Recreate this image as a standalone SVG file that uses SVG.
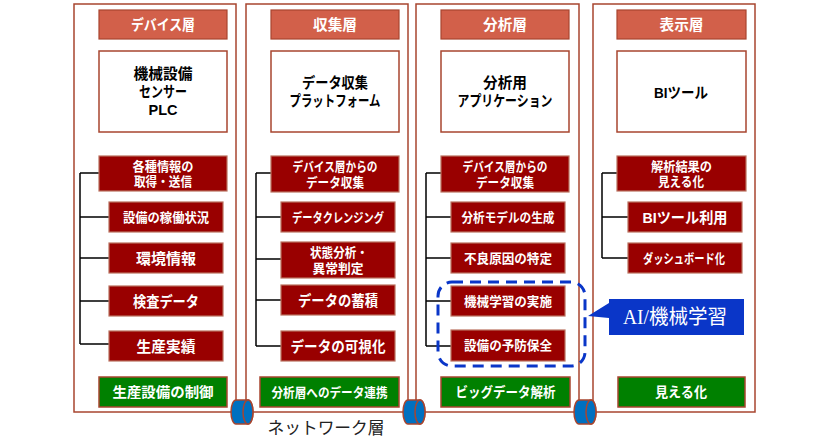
<svg xmlns="http://www.w3.org/2000/svg" xmlns:xlink="http://www.w3.org/1999/xlink" width="830" height="440" viewBox="0 0 830 440">
<style>
.col{fill:#fff;stroke:#a8452f;stroke-width:1.5}
.hdr{fill:#d2604a;stroke:#a8452f;stroke-width:1.2}
.wbox{fill:#fff;stroke:#a8452f;stroke-width:1.5}
.item{fill:#990000;stroke:#b9705e;stroke-width:1.2}
.grn{fill:#008000;stroke:#a8452f;stroke-width:1.5}
.tree{fill:none;stroke:#000;stroke-width:1.5}
text{font-family:"Liberation Sans","Noto Sans CJK JP",sans-serif;text-anchor:middle;dominant-baseline:central;font-weight:bold}
.th{fill:#fff;font-size:14.5px}
.tw{fill:#000;font-size:15px}
.ts{fill:#fff;font-size:13px}
.tl{fill:#fff;font-size:15px}
.tg{fill:#fff;font-size:14px}
.cyl{fill:#0070c0;stroke:#a8452f;stroke-width:1.5}
</style>
<defs>
<g id="cyl">
<path class="cyl" d="M5,0 H17 A5,12 0 0 1 17,24 H5 A5,12 0 0 1 5,0 Z"/>
<ellipse class="cyl" cx="17" cy="12" rx="5" ry="12"/>
</g>
</defs>

<g id="columns">
<rect class="col" x="74" y="4" width="162" height="408"/>
<rect class="col" x="246" y="4" width="162" height="408"/>
<rect class="col" x="416" y="4" width="163" height="408"/>
<rect class="col" x="593" y="4" width="162" height="408"/>
</g>

<g id="connectors">
<path class="tree" d="M80,173 V344 M80,173 H99 M80,217 H109 M80,258 H109 M80,301 H109 M80,344 H109"/>
<path class="tree" d="M256,173 V346 M256,173 H271 M256,217 H281 M256,259 H281 M256,300 H281 M256,346 H281"/>
<path class="tree" d="M426,173 V346 M426,173 H441 M426,217 H451 M426,258 H451 M426,301 H451 M426,346 H451"/>
<path class="tree" d="M602,173 V258 M602,173 H617 M602,217 H628 M602,258 H628"/>
</g>

<g id="col1">
<g id="h1"><rect class="hdr" x="99" y="10" width="128" height="29"/><text class="th" x="163" y="24.5" textLength="64" lengthAdjust="spacingAndGlyphs">デバイス層</text></g>
<g id="w1"><rect class="wbox" x="99" y="51" width="128" height="81"/>
<text class="tw" x="163" y="73" textLength="59" lengthAdjust="spacingAndGlyphs">機械設備</text>
<text class="tw" x="163" y="91" textLength="48" lengthAdjust="spacingAndGlyphs">センサー</text>
<text class="tw" x="163" y="109" textLength="29" lengthAdjust="spacingAndGlyphs">PLC</text></g>
<g id="i1a"><rect class="item" x="99" y="156" width="128" height="35"/>
<text class="ts" x="163" y="166" textLength="61" lengthAdjust="spacingAndGlyphs">各種情報の</text>
<text class="ts" x="163" y="181" textLength="58" lengthAdjust="spacingAndGlyphs">取得・送信</text></g>
<g id="i1b"><rect class="item" x="109" y="202" width="114" height="30"/><text class="ts" x="166" y="217" textLength="86" lengthAdjust="spacingAndGlyphs">設備の稼働状況</text></g>
<g id="i1c"><rect class="item" x="109" y="243" width="114" height="30"/><text class="tl" x="166" y="258" textLength="60" lengthAdjust="spacingAndGlyphs">環境情報</text></g>
<g id="i1d"><rect class="item" x="109" y="286" width="114" height="30"/><text class="tl" x="166" y="301" textLength="66" lengthAdjust="spacingAndGlyphs">検査データ</text></g>
<g id="i1e"><rect class="item" x="109" y="331" width="114" height="30"/><text class="tl" x="166" y="346" textLength="59" lengthAdjust="spacingAndGlyphs">生産実績</text></g>
<g id="g1"><rect class="grn" x="99" y="377" width="128" height="30"/><text class="tg" x="163" y="392" textLength="101" lengthAdjust="spacingAndGlyphs">生産設備の制御</text></g>
</g>

<g id="col2">
<g id="h2"><rect class="hdr" x="271" y="10" width="128" height="29"/><text class="th" x="335" y="24.5" textLength="44" lengthAdjust="spacingAndGlyphs">収集層</text></g>
<g id="w2"><rect class="wbox" x="271" y="51" width="128" height="81"/>
<text class="tw" x="335" y="82" textLength="66" lengthAdjust="spacingAndGlyphs">データ収集</text>
<text class="tw" x="335" y="100" textLength="91" lengthAdjust="spacingAndGlyphs">プラットフォーム</text></g>
<g id="i2a"><rect class="item" x="271" y="156" width="128" height="36"/>
<text class="ts" x="335" y="166.5" textLength="85" lengthAdjust="spacingAndGlyphs">デバイス層からの</text>
<text class="ts" x="335" y="182" textLength="58" lengthAdjust="spacingAndGlyphs">データ収集</text></g>
<g id="i2b"><rect class="item" x="281" y="202" width="114" height="30"/><text class="ts" x="338" y="217" textLength="92" lengthAdjust="spacingAndGlyphs">データクレンジング</text></g>
<g id="i2c"><rect class="item" x="281" y="242" width="114" height="36"/>
<text class="ts" x="339" y="252.5" textLength="58" lengthAdjust="spacingAndGlyphs">状態分析・</text>
<text class="ts" x="338" y="268" textLength="51" lengthAdjust="spacingAndGlyphs">異常判定</text></g>
<g id="i2d"><rect class="item" x="281" y="285" width="114" height="30"/><text class="tl" x="338" y="300" textLength="80" lengthAdjust="spacingAndGlyphs">データの蓄積</text></g>
<g id="i2e"><rect class="item" x="281" y="331" width="114" height="30"/><text class="tl" x="338" y="346" textLength="95" lengthAdjust="spacingAndGlyphs">データの可視化</text></g>
<g id="g2"><rect class="grn" x="260" y="377" width="139" height="30"/><text class="ts" x="329.5" y="392" textLength="116" lengthAdjust="spacingAndGlyphs">分析層へのデータ連携</text></g>
</g>

<g id="col3">
<g id="h3"><rect class="hdr" x="441" y="10" width="128" height="29"/><text class="th" x="505" y="24.5" textLength="44" lengthAdjust="spacingAndGlyphs">分析層</text></g>
<g id="w3"><rect class="wbox" x="441" y="51" width="128" height="81"/>
<text class="tw" x="505" y="82" textLength="44" lengthAdjust="spacingAndGlyphs">分析用</text>
<text class="tw" x="505" y="100" textLength="95" lengthAdjust="spacingAndGlyphs">アプリケーション</text></g>
<g id="i3a"><rect class="item" x="441" y="156" width="128" height="36"/>
<text class="ts" x="505" y="166.5" textLength="85" lengthAdjust="spacingAndGlyphs">デバイス層からの</text>
<text class="ts" x="505" y="182" textLength="58" lengthAdjust="spacingAndGlyphs">データ収集</text></g>
<g id="i3b"><rect class="item" x="451" y="202" width="114" height="30"/><text class="ts" x="508" y="217" textLength="93" lengthAdjust="spacingAndGlyphs">分析モデルの生成</text></g>
<g id="i3c"><rect class="item" x="451" y="243" width="114" height="30"/><text class="ts" x="508" y="258" textLength="88" lengthAdjust="spacingAndGlyphs">不良原因の特定</text></g>
<g id="i3d"><rect class="item" x="451" y="286" width="114" height="30"/><text class="ts" x="508" y="301" textLength="88" lengthAdjust="spacingAndGlyphs">機械学習の実施</text></g>
<g id="i3e"><rect class="item" x="451" y="330" width="114" height="31"/><text class="ts" x="508" y="345.5" textLength="88" lengthAdjust="spacingAndGlyphs">設備の予防保全</text></g>
<g id="g3"><rect class="grn" x="441" y="377" width="129" height="30"/><text class="tg" x="505.5" y="392" textLength="100" lengthAdjust="spacingAndGlyphs">ビッグデータ解析</text></g>
<g id="ml-group"><rect x="438" y="282" width="147" height="84" rx="14" fill="none" stroke="#0a36c8" stroke-width="3" stroke-dasharray="11 7"/></g>
</g>

<g id="col4">
<g id="h4"><rect class="hdr" x="617" y="10" width="129" height="29"/><text class="th" x="681.5" y="24.5" textLength="44" lengthAdjust="spacingAndGlyphs">表示層</text></g>
<g id="w4"><rect class="wbox" x="617" y="51" width="129" height="81"/>
<text class="tw" x="681" y="92" textLength="54" lengthAdjust="spacingAndGlyphs">BIツール</text></g>
<g id="i4a"><rect class="item" x="617" y="156" width="129" height="35"/>
<text class="ts" x="681.5" y="166" textLength="61" lengthAdjust="spacingAndGlyphs">解析結果の</text>
<text class="ts" x="681" y="181" textLength="46" lengthAdjust="spacingAndGlyphs">見える化</text></g>
<g id="i4b"><rect class="item" x="628" y="202" width="114" height="30"/><text class="tl" x="685" y="217" textLength="85" lengthAdjust="spacingAndGlyphs">BIツール利用</text></g>
<g id="i4c"><rect class="item" x="628" y="243" width="114" height="30"/><text class="ts" x="684" y="258" textLength="82" lengthAdjust="spacingAndGlyphs">ダッシュボード化</text></g>
<g id="g4"><rect class="grn" x="618" y="377" width="127" height="30"/><text class="tg" x="681" y="392" textLength="52" lengthAdjust="spacingAndGlyphs">見える化</text></g>
</g>

<g id="callout">
<path d="M609,299 H744 V335 H609 V318 L588,316 L609,303 Z" fill="#0a36c8"/>
<text x="675" y="317" style="font-family:'Liberation Serif','Noto Sans CJK JP',serif;font-weight:normal;font-size:20px;fill:#fff" textLength="104" lengthAdjust="spacingAndGlyphs">AI/機械学習</text>
</g>

<g id="network">
<use xlink:href="#cyl" x="231" y="400"/>
<use xlink:href="#cyl" x="403" y="400"/>
<use xlink:href="#cyl" x="574" y="400"/>
<text x="326" y="428" style="font-weight:normal;font-size:17px;fill:#222" textLength="117" lengthAdjust="spacingAndGlyphs">ネットワーク層</text>
</g>
</svg>
